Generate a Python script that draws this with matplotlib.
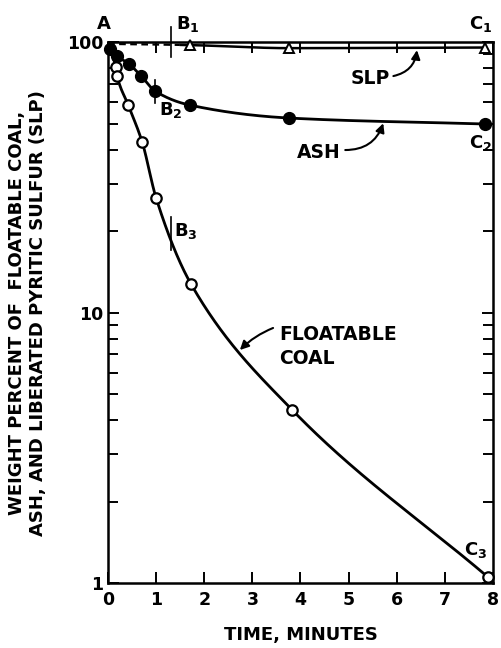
import numpy as np
import matplotlib
matplotlib.use("Agg")
import matplotlib.pyplot as plt
from matplotlib.ticker import LogLocator, NullFormatter, FixedLocator, FixedFormatter

plt.rcParams['font.family'] = ['DejaVu Sans']
plt.rcParams['font.weight'] = 'bold'
plt.rcParams['mathtext.default'] = 'bf'

# Flotation results, weight percent vs. time in minutes
coal_t = [0.0, 0.16, 0.19, 0.42, 0.71, 1.0, 1.73, 3.83, 7.9]
coal_v = [100, 80.8, 74.9, 58.5, 42.7, 26.5, 12.7, 4.36, 1.05]
coal_pts_t = coal_t[1:]
coal_pts_v = coal_v[1:]

ash_t = [0.0, 0.05, 0.19, 0.44, 0.69, 0.98, 1.7, 3.76, 7.84]
ash_v = [100, 94.0, 88.8, 82.9, 74.9, 65.9, 58.5, 52.4, 49.8]
ash_pts_t = ash_t[1:]
ash_pts_v = ash_v[1:]

slp_t = [0.0, 1.7, 3.76, 7.84]
slp_v = [98.5, 97.5, 95.0, 95.5]
slp_pts_t = slp_t[1:]
slp_pts_v = slp_v[1:]
slp_dash_end = 1.5

x_ticks = [0, 1, 2, 3, 4, 5, 6, 7, 8]
y_ticks = [1, 10, 100]


def pchip(x, y, xs):
    x = np.asarray(x, float)
    y = np.asarray(y, float)
    h = np.diff(x)
    d = np.diff(y) / h
    m = np.zeros_like(y)
    for k in range(1, len(x) - 1):
        if d[k - 1] * d[k] > 0:
            w1 = 2 * h[k] + h[k - 1]
            w2 = h[k] + 2 * h[k - 1]
            m[k] = (w1 + w2) / (w1 / d[k - 1] + w2 / d[k])
    m[0] = d[0]
    m[-1] = d[-1]
    out = np.empty_like(xs)
    for i, xv in enumerate(xs):
        k = min(max(np.searchsorted(x, xv) - 1, 0), len(x) - 2)
        t = (xv - x[k]) / h[k]
        h00 = 2 * t**3 - 3 * t**2 + 1
        h10 = t**3 - 2 * t**2 + t
        h01 = -2 * t**3 + 3 * t**2
        h11 = t**3 - t**2
        out[i] = h00 * y[k] + h10 * h[k] * m[k] + h01 * y[k + 1] + h11 * h[k] * m[k + 1]
    return out


def smooth(tt, vv):
    xs = np.linspace(tt[0], tt[-1], 400)
    ys = 10 ** pchip(tt, np.log10(vv), xs)
    return xs, ys


fig = plt.figure(figsize=(5.01, 6.48), dpi=100)
ax = fig.add_axes([0.2156, 0.1003, 0.984 - 0.2156, 0.935 - 0.1003])
ax.set_yscale('log')
ax.set_xlim(0, 8)
ax.set_ylim(1, 100)

lw = 2.0
# floatable coal
xs, ys = smooth(coal_t, coal_v)
ax.plot(xs, ys, color='black', lw=lw, zorder=2)
ax.plot(coal_pts_t, coal_pts_v, 'o', ms=7.5, mfc='white', mec='black', mew=1.6, zorder=3,
        clip_on=False)

# ash
xs, ys = smooth(ash_t, ash_v)
ax.plot(xs, ys, color='black', lw=lw, zorder=2)
ax.plot(ash_pts_t, ash_pts_v, 'o', ms=8.5, mfc='black', mec='black', zorder=3, clip_on=False)

# liberated pyritic sulfur
xs, ys = smooth(slp_t, slp_v)
dash = xs <= slp_dash_end
ax.plot(xs[dash], ys[dash], color='black', lw=1.6, ls=(0, (3, 2)), zorder=2)
ax.plot(xs[~dash], ys[~dash], color='black', lw=1.8, zorder=2)
ax.plot(slp_pts_t, slp_pts_v, '^', ms=7, mfc='white', mec='black', mew=1.4, zorder=3,
        clip_on=False)

# axes styling
for s in ax.spines.values():
    s.set_linewidth(1.8)
ax.xaxis.set_major_locator(FixedLocator(x_ticks))
ax.set_xticklabels([str(v) for v in x_ticks])
ax.yaxis.set_major_locator(FixedLocator(y_ticks))
ax.yaxis.set_major_formatter(FixedFormatter([str(v) for v in y_ticks]))
ax.yaxis.set_minor_locator(LogLocator(base=10, subs=np.arange(2, 10)))
ax.yaxis.set_minor_formatter(NullFormatter())
ax.tick_params(axis='both', which='both', direction='in', top=True, right=True,
               width=1.4, labelsize=12.5)
ax.tick_params(axis='both', which='major', length=8)
ax.tick_params(axis='y', which='minor', length=7)
ax.tick_params(axis='x', pad=6)

ax.set_xlabel('TIME, MINUTES', fontsize=13, fontweight='bold', labelpad=12)
ax.set_ylabel('WEIGHT PERCENT OF  FLOATABLE COAL,\nASH, AND LIBERATED PYRITIC SULFUR (SLP)',
              fontsize=13, fontweight='bold', labelpad=14, linespacing=1.25)

fs = 13
# point labels
ax.text(-0.08, 108, 'A', fontsize=fs, ha='center', va='bottom', fontweight='bold', clip_on=False)
ax.text(1.42, 107, r'B$_1$', fontsize=fs, ha='left', va='bottom', fontweight='bold')
ax.plot([1.3, 1.3], [88, 114], color='black', lw=1.2, clip_on=False)
ax.text(7.75, 107, r'C$_1$', fontsize=fs, ha='center', va='bottom', fontweight='bold')

ax.text(1.05, 61, r'B$_2$', fontsize=fs, ha='left', va='top', fontweight='bold')
ax.plot([0.98, 0.98], [59.5, 72.5], color='black', lw=1.2)
ax.text(7.75, 46, r'C$_2$', fontsize=fs, ha='center', va='top', fontweight='bold')

ax.text(1.38, 20, r'B$_3$', fontsize=fs, ha='left', va='center', fontweight='bold')
ax.plot([1.31, 1.31], [17, 22.6], color='black', lw=1.2)
ax.text(7.63, 1.32, r'C$_3$', fontsize=fs, ha='center', va='center', fontweight='bold')

# curve names with arrows
arrow = dict(arrowstyle='-|>', color='black', lw=1.5, mutation_scale=13)
ax.text(5.45, 73.6, 'SLP', fontsize=13.5, fontweight='bold', ha='center', va='center')
ax.annotate('', xy=(6.42, 93.4), xytext=(5.93, 74.9),
            arrowprops=dict(arrow, connectionstyle='arc3,rad=0.35', shrinkA=0, shrinkB=0))
ax.text(4.39, 39.2, 'ASH', fontsize=13.5, fontweight='bold', ha='center', va='center')
ax.annotate('', xy=(5.72, 50.1), xytext=(4.93, 39.9),
            arrowprops=dict(arrow, connectionstyle='arc3,rad=0.35', shrinkA=0, shrinkB=0))
ax.text(3.55, 7.5, 'FLOATABLE\nCOAL', fontsize=13.5, fontweight='bold', ha='left',
        va='center', linespacing=1.35)
ax.annotate('', xy=(2.74, 7.27), xytext=(3.43, 8.77),
            arrowprops=dict(arrow, connectionstyle='arc3,rad=0.1', shrinkA=0, shrinkB=0))

fig.savefig('out.png', dpi=100)
